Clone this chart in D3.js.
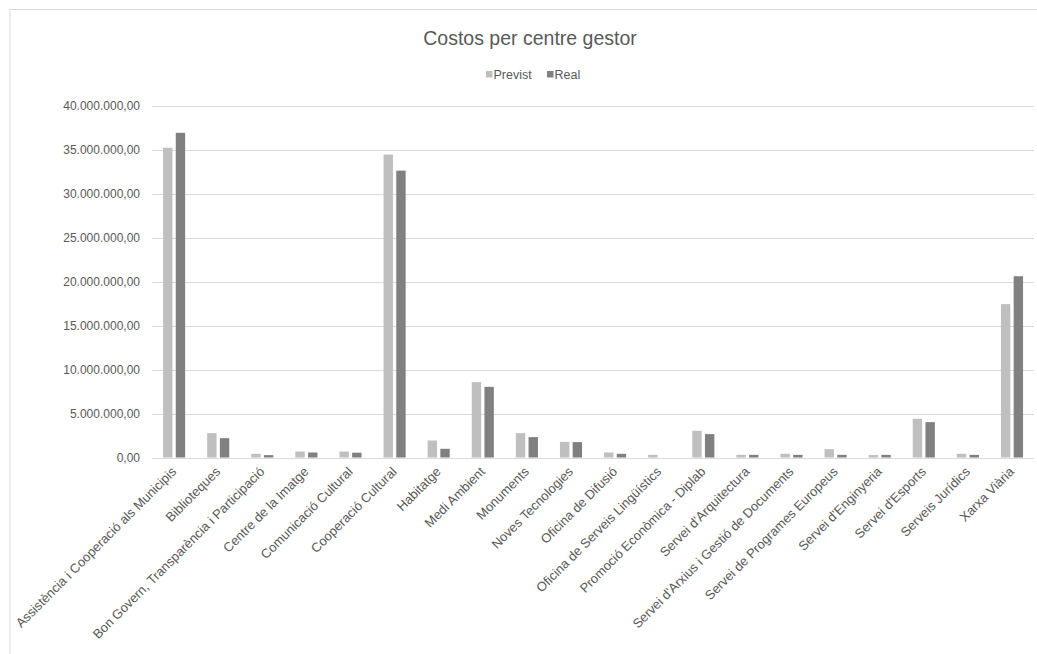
<!DOCTYPE html>
<html><head><meta charset="utf-8">
<script src="https://cdn.jsdelivr.net/npm/d3@7"></script>
<style>body{margin:0;background:#fff}svg{display:block}text{font-family:"Liberation Sans",Arial,sans-serif;fill:#595959}</style>
</head><body><svg id="c" width="1037" height="654"></svg>
<script>
const categories = ["Assistència i Cooperació als Municipis","Biblioteques","Bon Govern, Transparència i Participació","Centre de la Imatge","Comunicació Cultural","Cooperació Cultural","Habitatge","Medi Ambient","Monuments","Noves Tecnologies","Oficina de Difusió","Oficina de Serveis Lingüístics","Promoció Econòmica - Diplab","Servei d'Arquitectura","Servei d'Arxius i Gestió de Documents","Servei de Programes Europeus","Servei d'Enginyeria","Servei d'Esports","Serveis Jurídics","Xarxa Viària"];
const previst = [35200000,2770000,420000,680000,680000,34430000,1930000,8570000,2770000,1780000,570000,300000,3030000,300000,420000,950000,280000,4400000,420000,17430000];
const real = [36900000,2200000,270000,570000,550000,32600000,990000,8030000,2320000,1750000,420000,0,2660000,300000,300000,300000,300000,4020000,300000,20600000];
const seriesNames = ["Previst","Real"];
const seriesColors = ["#bfbfbf","#808080"];
const yTicks = [0,5000000,10000000,15000000,20000000,25000000,30000000,35000000,40000000];

const svg = d3.select("#c");
const pLeft = 152, pRight = 1034, pTop = 105.5, pBottom = 457.5;

// frame
svg.append("rect").attr("x",10).attr("y",9.5).attr("width",1040).attr("height",660)
  .attr("fill","#fff").attr("stroke","#d9d9d9").attr("stroke-width",1);

const x = d3.scaleBand().domain(categories).range([pLeft,pRight]).paddingInner(0).paddingOuter(0);
const y = d3.scaleLinear().domain([0,40000000]).range([pBottom,pTop]);

const fmt = v => {
  const s = d3.format(",.2f")(v);
  return s.replace(/,/g,"#").replace(/\./g,",").replace(/#/g,".");
};

// gridlines
svg.append("g").selectAll("line").data(yTicks.filter(d=>d>0)).join("line")
  .attr("x1",pLeft).attr("x2",pRight)
  .attr("y1",d=>Math.round(y(d))+0.5).attr("y2",d=>Math.round(y(d))+0.5)
  .attr("stroke","#d9d9d9").attr("stroke-width",1);

// y labels
const yAxis = d3.axisLeft(y).tickValues(yTicks).tickFormat(fmt).tickSize(0).tickPadding(12);
const gy = svg.append("g").attr("transform",`translate(${pLeft},0)`).call(yAxis);
gy.select(".domain").remove();
gy.selectAll("text").style("font-size","12px").style("fill","#595959")
  .style("font-family","'Liberation Sans',Arial,sans-serif");

// bars
const bw = 9.4;
const offs = [-11, 1.7];
seriesNames.forEach((s,si)=>{
  const vals = si===0?previst:real;
  svg.append("g").selectAll("rect").data(categories).join("rect")
    .attr("x",(d)=>x(d)+x.bandwidth()/2+offs[si])
    .attr("width",bw)
    .attr("y",(d,i)=>y(vals[i]))
    .attr("height",(d,i)=>pBottom-y(vals[i]))
    .attr("fill",seriesColors[si]);
});

// x axis
const xAxis = d3.axisBottom(x).tickSize(0).tickPadding(0);
const gx = svg.append("g").attr("transform",`translate(0,${Math.round(pBottom)+0.5})`).call(xAxis);
gx.select(".domain").attr("stroke","#d9d9d9").attr("d",`M${pLeft},0H${pRight}`);
gx.selectAll("text")
  .style("font-size","13px").style("fill","#595959")
  .style("font-family","'Liberation Sans',Arial,sans-serif")
  .attr("text-anchor","end").attr("dy","0")
  .attr("transform","translate(3,14) rotate(-45)");

// title
svg.append("text").attr("x",530).attr("y",45).attr("text-anchor","middle")
  .style("font-size","19.5px").text("Costos per centre gestor");

// legend
const lg = svg.append("g");
const legendX = [486,547];
seriesNames.forEach((s,i)=>{
  lg.append("rect").attr("x",legendX[i]).attr("y",71).attr("width",6.5).attr("height",6.5).attr("fill",seriesColors[i]);
  lg.append("text").attr("x",legendX[i]+7.5).attr("y",78.5).style("font-size","12.5px").text(s);
});
</script>
</body></html>
